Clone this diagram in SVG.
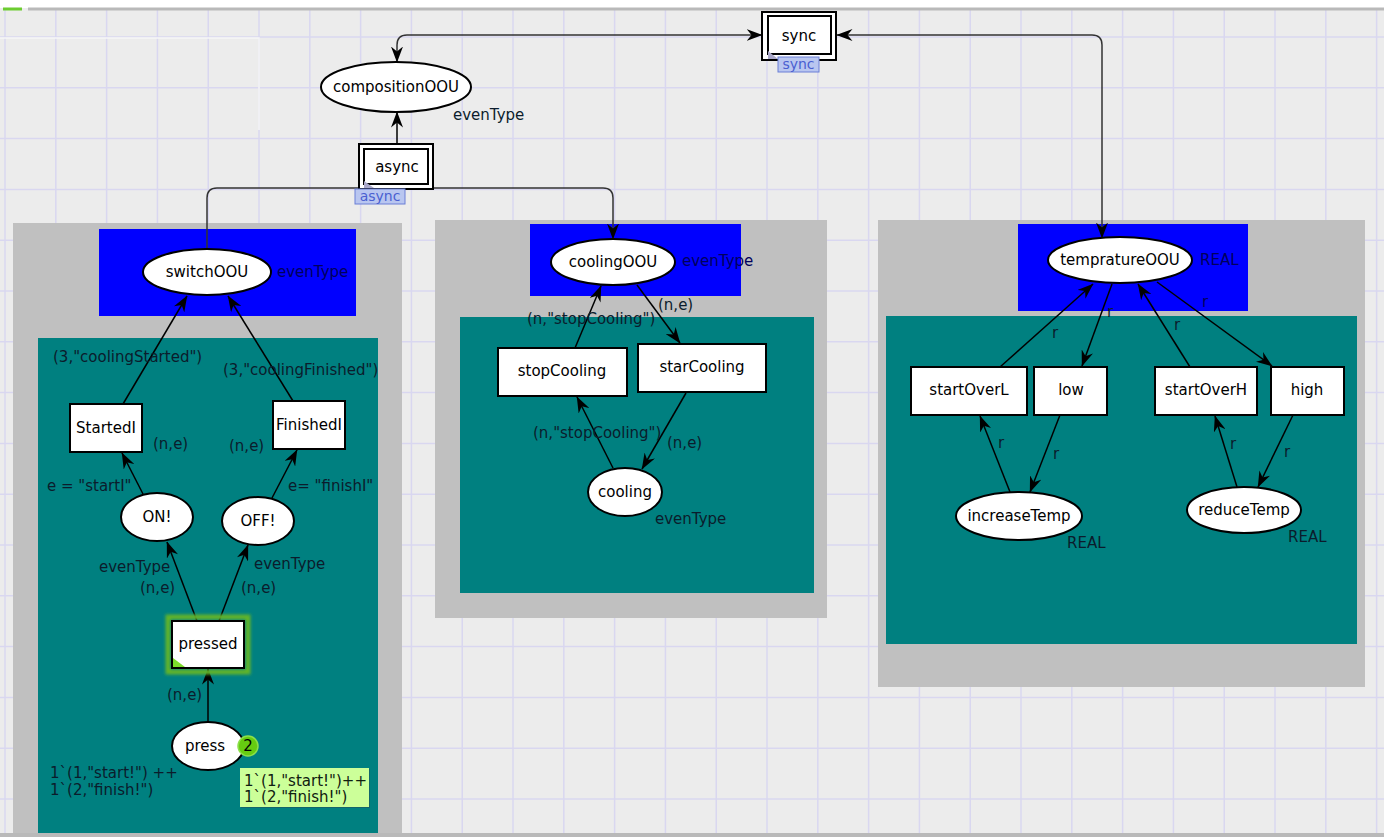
<svg xmlns="http://www.w3.org/2000/svg" width="1384" height="837" viewBox="0 0 1384 837">
  <defs>
    <marker id="ah" viewBox="0 0 16 12" refX="15.5" refY="6" markerWidth="16" markerHeight="12" orient="auto-start-reverse" markerUnits="userSpaceOnUse">
      <path d="M0,0 L16,6 L0,12 L5,6 z" fill="#000"/>
    </marker>
    <filter id="glow" x="-20%" y="-20%" width="140%" height="140%">
      <feGaussianBlur stdDeviation="1.5"/>
    </filter>
  </defs>
  <style>
    .grid { stroke: #d9d7f0; stroke-width: 1.5; fill: none; }
    .panel { fill: #c0c0c0; }
    .page { fill: #0000ff; }
    .sub { fill: #008080; }
    .place { fill: #ffffff; stroke: #000; stroke-width: 2; }
    .trans { fill: #ffffff; stroke: #000; stroke-width: 2; }
    .arc { fill: none; stroke: #000; stroke-width: 1.5; marker-end: url(#ah); }
    .wire { fill: none; stroke: #333; stroke-width: 1.5; }
    text { font-family: "DejaVu Sans", Verdana, sans-serif; font-size: 15px; }
    .name { fill: #000; text-anchor: middle; }
    .lbl { fill: #0b1c2c; }
    .lblc { fill: #0b1c2c; text-anchor: middle; }
    .dim { fill: #00005c; }
    .tag rect { fill: #b9c6f0; stroke: #6a7fd6; stroke-width: 1; }
    .tag text { fill: #4a5fd0; font-size: 14px; text-anchor: middle; }
  </style>

  <!-- canvas -->
  <rect x="0" y="0" width="1384" height="837" fill="#ececec"/>
  <rect x="0" y="0" width="1384" height="8" fill="#ffffff"/>
  <path class="grid" d="M5,10V833M55.8,10V833M106.6,10V833M157.4,10V833M208.2,10V833M259,10V833M309.8,10V833M360.6,10V833M411.4,10V833M462.2,10V833M513,10V833M563.8,10V833M614.6,10V833M665.4,10V833M716.2,10V833M767,10V833M817.8,10V833M868.6,10V833M919.4,10V833M970.2,10V833M1021,10V833M1071.8,10V833M1122.6,10V833M1173.4,10V833M1224.2,10V833M1275,10V833M1325.8,10V833M1376.6,10V833"/>
  <path class="grid" d="M0,37H1384M0,87.8H1384M0,138.6H1384M0,189.4H1384M0,240.2H1384M0,291H1384M0,341.8H1384M0,392.6H1384M0,443.4H1384M0,494.2H1384M0,545H1384M0,595.8H1384M0,646.6H1384M0,697.4H1384M0,748.2H1384M0,799H1384"/>
  <path d="M0,38H259V130" fill="none" stroke="#f6f6f6" stroke-width="1.5"/>
  <rect x="28" y="7.5" width="1356" height="3" fill="#b9b9b9"/>
  <rect x="3" y="7.5" width="19" height="3" fill="#6ccc30"/>
  <rect x="0" y="833" width="1384" height="4" fill="#b9b9b9"/>

  <!-- module frames -->
  <g id="switchModule">
    <rect class="panel" x="13" y="223" width="389" height="610"/>
    <rect class="page" x="99" y="229" width="257" height="87"/>
    <rect class="sub" x="38" y="338" width="340" height="495"/>
  </g>
  <g id="coolingModule">
    <rect class="panel" x="435" y="220" width="392" height="398"/>
    <rect class="page" x="530" y="224" width="211" height="72"/>
    <rect class="sub" x="460" y="317" width="354" height="276"/>
  </g>
  <g id="temperatureModule">
    <rect class="panel" x="878" y="220" width="487" height="467"/>
    <rect class="page" x="1018" y="224" width="230" height="87"/>
    <rect class="sub" x="886" y="316" width="471" height="328"/>
  </g>

  <!-- connectors -->
  <g id="connectors">
    <path class="wire" d="M397,62V45Q397,35 407,35H762" marker-start="url(#ah)" marker-end="url(#ah)"/>
    <path class="wire" d="M837,35H1092Q1102,35 1102,45V238" marker-start="url(#ah)" marker-end="url(#ah)"/>
    <path class="arc" d="M397,145V112"/>
    <path class="wire" d="M207,249V198Q207,188 217,188H603Q613,188 613,198V239" marker-end="url(#ah)"/>
    <path class="arc" d="M397,188V170"/>

    <path class="arc" d="M123,404L187,296"/>
    <path class="arc" d="M293,401L228,296"/>
    <path class="arc" d="M143,494L122,453"/>
    <path class="arc" d="M272,498L297,450"/>
    <path class="arc" d="M197,621L167,542"/>
    <path class="arc" d="M219,621L248,545"/>
    <path class="arc" d="M208,722L208,669"/>

    <path class="arc" d="M575,348L601,286"/>
    <path class="arc" d="M637,285L680,343"/>
    <path class="arc" d="M686,393L642,469"/>
    <path class="arc" d="M613,468L577,397"/>

    <path class="arc" d="M1000,367L1093,284"/>
    <path class="arc" d="M1112,284L1082,366"/>
    <path class="arc" d="M1190,367L1138,284"/>
    <path class="arc" d="M1157,282L1272,366"/>
    <path class="arc" d="M1010,492L980,416"/>
    <path class="arc" d="M1060,415L1030,492"/>
    <path class="arc" d="M1237,487L1215,416"/>
    <path class="arc" d="M1293,415L1258,487"/>
  </g>

  <!-- top level -->
  <g id="compositionOOU">
    <ellipse class="place" cx="396" cy="87" rx="75" ry="25"/>
    <text class="name" x="396" y="92">compositionOOU</text>
    <text class="lbl" x="453" y="120">evenType</text>
  </g>
  <g id="async">
    <rect x="359" y="144" width="74" height="45" fill="#fff" stroke="#000" stroke-width="2"/>
    <rect x="364" y="149" width="64" height="35" fill="#fff" stroke="#000" stroke-width="2"/>
    <polygon points="364,181 364,188 374,188" fill="#a9a7c9"/>
    <text class="name" x="397" y="172">async</text>
    <g class="tag"><rect x="355" y="189" width="50" height="15"/><text x="380" y="201">async</text></g>
  </g>
  <g id="sync">
    <rect x="762" y="12" width="74" height="48" fill="#fff" stroke="#000" stroke-width="2"/>
    <rect x="768" y="16" width="63" height="38" fill="#fff" stroke="#000" stroke-width="2"/>
    <polygon points="768,51 768,59 778,59" fill="#a9a7c9"/>
    <text class="name" x="799" y="41">sync</text>
    <g class="tag"><rect x="778" y="57" width="41" height="15"/><text x="798.5" y="69">sync</text></g>
  </g>

  <!-- switch module -->
  <g id="switchOOU">
    <ellipse class="place" cx="207" cy="272" rx="64" ry="23"/>
    <text class="name" x="207" y="277">switchOOU</text>
    <text class="dim" x="277" y="277">evenType</text>
  </g>
  <g id="StartedI">
    <rect class="trans" x="70" y="404" width="72" height="48"/>
    <text class="name" x="106" y="433">StartedI</text>
  </g>
  <g id="FinishedI">
    <rect class="trans" x="273" y="401" width="72" height="48"/>
    <text class="name" x="309" y="430">FinishedI</text>
  </g>
  <g id="ON">
    <ellipse class="place" cx="157" cy="517" rx="36" ry="24"/>
    <text class="name" x="157" y="522">ON!</text>
  </g>
  <g id="OFF">
    <ellipse class="place" cx="258" cy="521" rx="36" ry="24"/>
    <text class="name" x="258" y="526">OFF!</text>
  </g>
  <g id="pressed">
    <rect x="168" y="617" width="80" height="55" fill="none" stroke="#62b428" stroke-width="5" filter="url(#glow)"/>
    <rect class="trans" x="172" y="621" width="72" height="47" stroke="#1e3a10"/>
    <polygon points="173,658 173,667 185,667" fill="#7ddc2c"/>
    <text class="name" x="208" y="649">pressed</text>
  </g>
  <g id="press">
    <ellipse class="place" cx="208" cy="746" rx="36" ry="24"/>
    <text class="name" x="205" y="751">press</text>
    <circle cx="248" cy="746" r="10" fill="#66cc11" stroke="#8be04a" stroke-width="1.5"/>
    <text class="name" x="248" y="751">2</text>
    <text class="lbl" x="50" y="778">1`(1,"start!") ++</text>
    <text class="lbl" x="50" y="795">1`(2,"finish!")</text>
    <rect x="241" y="769" width="129" height="39" fill="#334" opacity="0.35"/>
    <rect x="240" y="768" width="129" height="39" fill="#ccff99"/>
    <text x="244" y="786" fill="#102010">1`(1,"start!")++</text>
    <text x="244" y="802" fill="#102010">1`(2,"finish!")</text>
  </g>
  <g id="switchLabels">
    <text class="lbl" x="53" y="362">(3,"coolingStarted")</text>
    <text class="lbl" x="223" y="375">(3,"coolingFinished")</text>
    <text class="lbl" x="153" y="449">(n,e)</text>
    <text class="lbl" x="229" y="451">(n,e)</text>
    <text class="lbl" x="47" y="491">e = "startI"</text>
    <text class="lbl" x="288" y="491">e= "finishI"</text>
    <text class="lbl" x="99" y="572">evenType</text>
    <text class="lbl" x="140" y="593">(n,e)</text>
    <text class="lbl" x="254" y="569">evenType</text>
    <text class="lbl" x="241" y="593">(n,e)</text>
    <text class="lbl" x="167" y="700">(n,e)</text>
  </g>

  <!-- cooling module -->
  <g id="coolingOOU">
    <ellipse class="place" cx="613" cy="262" rx="62" ry="23"/>
    <text class="name" x="613" y="267">coolingOOU</text>
    <text class="dim" x="682" y="266">evenType</text>
  </g>
  <g id="stopCooling">
    <rect class="trans" x="498" y="348" width="129" height="48"/>
    <text class="name" x="562" y="376">stopCooling</text>
  </g>
  <g id="starCooling">
    <rect class="trans" x="638" y="344" width="128" height="48"/>
    <text class="name" x="702" y="372">starCooling</text>
  </g>
  <g id="cooling">
    <ellipse class="place" cx="625" cy="492" rx="37" ry="24"/>
    <text class="name" x="625" y="497">cooling</text>
    <text class="lbl" x="655" y="524">evenType</text>
  </g>
  <g id="coolingLabels">
    <text class="lbl" x="527" y="324">(n,"stopCooling")</text>
    <text class="lbl" x="658" y="310">(n,e)</text>
    <text class="lbl" x="667" y="448">(n,e)</text>
    <text class="lbl" x="533" y="438">(n,"stopCooling")</text>
  </g>

  <!-- temperature module -->
  <g id="tempratureOOU">
    <ellipse class="place" cx="1120" cy="260" rx="72" ry="23"/>
    <text class="name" x="1120" y="265">tempratureOOU</text>
    <text class="dim" x="1200" y="265">REAL</text>
  </g>
  <g id="startOverL">
    <rect class="trans" x="911" y="367" width="116" height="48"/>
    <text class="name" x="969" y="395">startOverL</text>
  </g>
  <g id="low">
    <rect class="trans" x="1034" y="367" width="73" height="48"/>
    <text class="name" x="1071" y="395">low</text>
  </g>
  <g id="startOverH">
    <rect class="trans" x="1155" y="367" width="102" height="48"/>
    <text class="name" x="1206" y="395">startOverH</text>
  </g>
  <g id="high">
    <rect class="trans" x="1271" y="367" width="73" height="48"/>
    <text class="name" x="1307" y="395">high</text>
  </g>
  <g id="increaseTemp">
    <ellipse class="place" cx="1019" cy="516" rx="63" ry="24"/>
    <text class="name" x="1019" y="521">increaseTemp</text>
    <text class="lbl" x="1067" y="548">REAL</text>
  </g>
  <g id="reduceTemp">
    <ellipse class="place" cx="1244" cy="510" rx="57" ry="23"/>
    <text class="name" x="1244" y="515">reduceTemp</text>
    <text class="lbl" x="1288" y="542">REAL</text>
  </g>
  <g id="temperatureLabels">
    <text class="lblc" x="1055" y="338">r</text>
    <text class="lblc" x="1110" y="317">r</text>
    <text class="lblc" x="1177" y="330">r</text>
    <text class="lblc dim" x="1205" y="307">r</text>
    <text class="lblc" x="1001" y="448">r</text>
    <text class="lblc" x="1056" y="459">r</text>
    <text class="lblc" x="1233" y="449">r</text>
    <text class="lblc" x="1287" y="457">r</text>
  </g>
</svg>
